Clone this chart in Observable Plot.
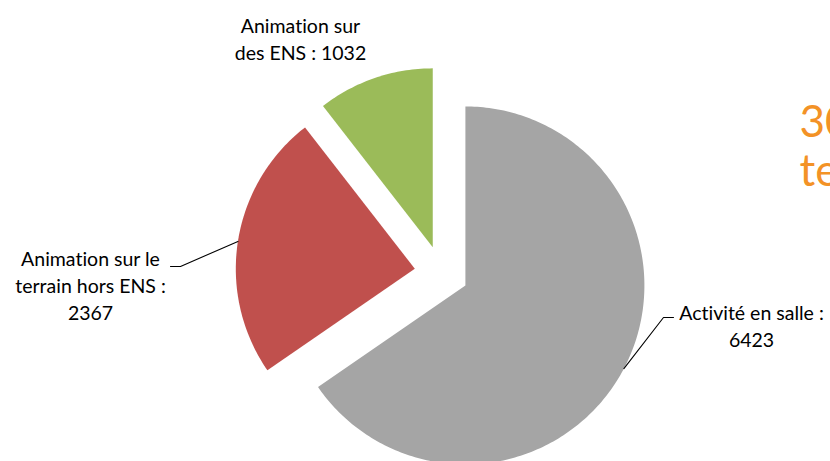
<!DOCTYPE html>
<html>
<head>
<meta charset="utf-8">
<script src="https://cdn.jsdelivr.net/npm/d3@7"></script>
<script src="https://cdn.jsdelivr.net/npm/@observablehq/plot@0.6"></script>
<style>
  html, body { margin: 0; padding: 0; background: #ffffff; }
  #chart svg { display: block; }
  #chart text { font-variant-ligatures: none; font-feature-settings: "liga" 0; }
</style>
</head>
<body>
<div id="chart"></div>
<script>
// ---- data ----
const categories = ["Activité en salle", "Animation sur le terrain hors ENS", "Animation sur des ENS"];
const values = [6423, 2367, 1032];
const labelLines = [
  ["Activité en salle :", "6423"],
  ["Animation sur le", "terrain hors ENS :", "2367"],
  ["Animation sur", "des ENS : 1032"]
];
const colors = ["#A5A5A5", "#C0504D", "#9BBB59"];
const titleLines = ["30", "te"];

// ---- layout ----
const W = 830, H = 461;
const cx = 441, cy = 272.4, R = 179, explode = 27;
const fontFamily = "Lato, 'Open Sans', sans-serif";
const fs = 19.5, lh = 27;
// label layout: centre x, first baseline y, leader elbow (pixels) per slice
const labelLayout = [
  {x: 751, y: 319, elbow: [[663, 317], [673, 317]]},
  {x: 90, y: 265, elbow: [[180, 266], [170, 266]]},
  {x: 300, y: 32, elbow: null}
];

const pie = d3.pie().sort(null).value(d => d)(values);
const pt = (ox, oy, a, r) => [ox + r * Math.sin(a), oy - r * Math.cos(a)];

const slicePts = [];
const leaderPts = [];
pie.forEach((p, i) => {
  const mid = (p.startAngle + p.endAngle) / 2;
  const [ax, ay] = pt(cx, cy, mid, explode);
  slicePts.push({k: i, x: ax, y: ay});
  const n = Math.max(8, Math.ceil((p.endAngle - p.startAngle) * 60));
  for (let j = 0; j <= n; j++) {
    const a = p.startAngle + (p.endAngle - p.startAngle) * j / n;
    const [x, y] = pt(ax, ay, a, R);
    slicePts.push({k: i, x, y});
  }
  const L = labelLayout[i];
  if (L.elbow) {
    const [sx, sy] = pt(ax, ay, mid, R);
    leaderPts.push({k: i, x: sx, y: sy});
    L.elbow.forEach(([x, y]) => leaderPts.push({k: i, x, y}));
  }
});

const textRows = labelLines.flatMap((lines, i) =>
  lines.map((t, j) => ({t, x: labelLayout[i].x, y: labelLayout[i].y + j * lh - 0.32 * fs}))
);
const titleRows = titleLines.map((t, j) => ({t, x: 799, y: 136 + j * 49 - 0.32 * 44}));

const chart = Plot.plot({
  width: W, height: H,
  margin: 0,
  x: {domain: [0, W], range: [0, W], axis: null},
  y: {domain: [0, H], range: [0, H], axis: null},
  style: {background: "#ffffff", fontFamily},
  marks: [
    Plot.line(slicePts, {x: "x", y: "y", z: "k", curve: "linear-closed",
      fill: d => colors[d.k], stroke: "none"}),
    Plot.line(leaderPts, {x: "x", y: "y", z: "k", stroke: "#000000", strokeWidth: 1.1}),
    Plot.text(textRows, {x: "x", y: "y", text: "t", fontSize: fs, fill: "#000000", textAnchor: "middle"}),
    Plot.text(titleRows, {x: "x", y: "y", text: "t", fontSize: 44, fill: "#F39226", textAnchor: "start"})
  ]
});
document.getElementById("chart").appendChild(chart);
</script>
</body>
</html>
